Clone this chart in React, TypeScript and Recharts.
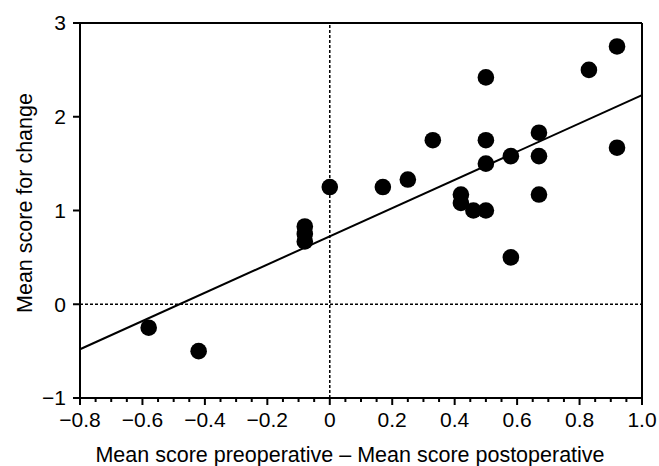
import { ReferenceLine, Scatter, ScatterChart, XAxis, YAxis } from 'recharts';

const preMinusPost = [-0.58, -0.42, -0.08, -0.08, -0.08, 0, 0.17, 0.25, 0.33, 0.42, 0.42, 0.46, 0.5, 0.5, 0.5, 0.5, 0.58, 0.58, 0.67, 0.67, 0.67, 0.83, 0.92, 0.92];
const changeScore = [-0.25, -0.5, 0.83, 0.75, 0.67, 1.25, 1.25, 1.33, 1.75, 1.17, 1.08, 1.0, 1.0, 1.5, 1.75, 2.42, 1.58, 0.5, 1.83, 1.58, 1.17, 2.5, 2.75, 1.67];

// fitted line, ends at the edges of the x range
const fitStart = { x: -0.8, y: -0.48 };
const fitEnd = { x: 1.0, y: 2.23 };

const xDomain = [-0.8, 1.0];
const yDomain = [-1, 3];
const xTicks = [-0.8, -0.75, -0.7, -0.65, -0.6, -0.55, -0.5, -0.45, -0.4, -0.35, -0.3, -0.25, -0.2, -0.15, -0.1, -0.05, 0, 0.05, 0.1, 0.15, 0.2, 0.25, 0.3, 0.35, 0.4, 0.45, 0.5, 0.55, 0.6, 0.65, 0.7, 0.75, 0.8, 0.85, 0.9, 0.95, 1.0];

const xTitle = 'Mean score preoperative \u2013 Mean score postoperative';
const yTitle = 'Mean score for change';

const points = preMinusPost.map((x, i) => ({ x, y: changeScore[i] }));

const FONT = '"Liberation Sans", Arial, sans-serif';
const isMajorX = (v: number) => Math.abs(v * 5 - Math.round(v * 5)) < 1e-6;
const fmtX = (v: number) => (Math.abs(v) < 1e-9 ? '0' : v.toFixed(1).replace('-', '\u2212'));
const fmtY = (v: number) => String(Math.round(v)).replace('-', '\u2212');

function XTick(props: any) {
  const { x, y, payload } = props;
  const major = isMajorX(payload.value);
  return (
    <g>
      <path d={`M${x},${y}L${x},${y + (major ? 7 : 4)}`} stroke="#000" strokeWidth={2} />
      {major && (
        <text x={x} y={y + 29} textAnchor="middle" fontSize={21} fill="#000">
          {fmtX(payload.value)}
        </text>
      )}
    </g>
  );
}

const Dot = (props: any) => <circle cx={props.cx} cy={props.cy} r={8.3} fill="#000" />;

const titleStyle = { position: 'absolute' as const, fontSize: 21.5, color: '#000', whiteSpace: 'nowrap' as const, lineHeight: '24px' };

export default function App() {
  return (
    <div style={{ position: 'absolute', left: 0, top: 0, width: 659, height: 466, fontFamily: FONT }}>
      <ScatterChart width={659} height={466} margin={{ top: 22, right: 16, bottom: 0, left: 0 }}>
        <XAxis
          xAxisId="b"
          type="number"
          dataKey="x"
          domain={xDomain}
          ticks={xTicks}
          interval={0}
          height={68}
          tickSize={0}
          tickMargin={0}
          axisLine={{ stroke: '#000', strokeWidth: 2 }}
          tickLine={false}
          tick={<XTick />}
        />
        <XAxis
          xAxisId="t"
          orientation="top"
          type="number"
          domain={xDomain}
          height={1}
          axisLine={{ stroke: '#000', strokeWidth: 2 }}
          tickLine={{ stroke: '#000', strokeWidth: 2 }}
          tick={false}
        />
        <YAxis
          yAxisId="l"
          type="number"
          dataKey="y"
          domain={yDomain}
          tickCount={5}
          width={80}
          tickSize={7}
          tickMargin={7}
          axisLine={{ stroke: '#000', strokeWidth: 2 }}
          tickLine={{ stroke: '#000', strokeWidth: 2 }}
          tick={{ fill: '#000', fontSize: 21 }}
          tickFormatter={fmtY}
        />
        <YAxis
          yAxisId="r"
          orientation="right"
          type="number"
          domain={yDomain}
          width={1}
          axisLine={{ stroke: '#000', strokeWidth: 2 }}
          tickLine={{ stroke: '#000', strokeWidth: 2 }}
          tick={false}
        />
        <ReferenceLine xAxisId="b" yAxisId="l" x={0} stroke="#000" strokeWidth={1.5} strokeDasharray="3 2" />
        <ReferenceLine xAxisId="b" yAxisId="l" y={0} stroke="#000" strokeWidth={1.5} strokeDasharray="3 2" />
        <ReferenceLine
          xAxisId="b"
          yAxisId="l"
          segment={[fitStart, fitEnd]}
          stroke="#000"
          strokeWidth={2}
          ifOverflow="visible"
        />
        <Scatter xAxisId="b" yAxisId="l" data={points} fill="#000" shape={<Dot />} isAnimationActive={false} />
      </ScatterChart>
      <div style={{ ...titleStyle, left: 0, top: 443, width: 700, textAlign: 'center' }}>{xTitle}</div>
      <div
        style={{
          ...titleStyle,
          left: 25 - 150,
          top: 203 - 12,
          width: 300,
          textAlign: 'center',
          transform: 'rotate(-90deg)',
        }}
      >
        {yTitle}
      </div>
    </div>
  );
}
